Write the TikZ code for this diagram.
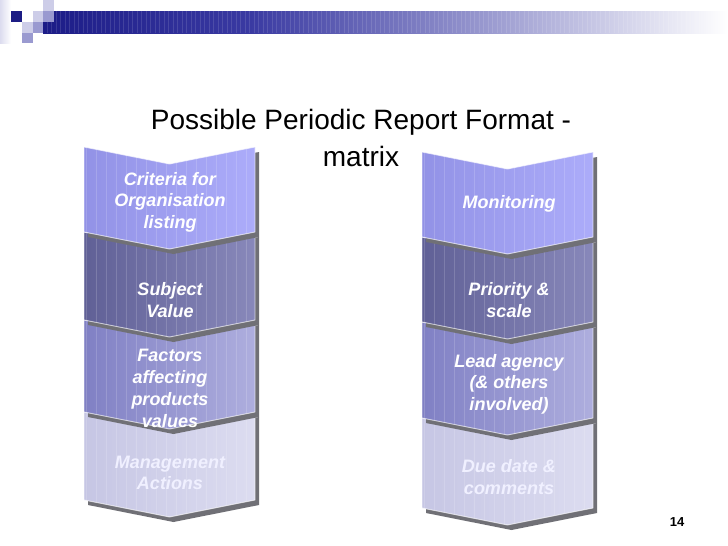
\documentclass[tikz,border=0pt]{standalone}
\usepackage{fontspec}
\setmainfont{Liberation Sans}
\definecolor{shadowgray}{RGB}{112,112,118}
\definecolor{navysq}{RGB}{28,28,132}
\definecolor{sqlight}{RGB}{205,205,232}
\definecolor{sqmed}{RGB}{154,154,208}
\definecolor{barA}{RGB}{28,28,135}
\definecolor{barB}{RGB}{58,58,162}
\definecolor{barC}{RGB}{138,138,200}
\definecolor{aL}{RGB}{146,146,230}
\definecolor{aR}{RGB}{172,172,250}
\definecolor{bL}{RGB}{96,96,150}
\definecolor{bR}{RGB}{136,136,186}
\definecolor{cL}{RGB}{128,128,196}
\definecolor{cR}{RGB}{174,174,222}
\definecolor{dL}{RGB}{198,198,228}
\definecolor{dR}{RGB}{220,220,240}
\tikzset{
  lbl/.style={text=white, font=\fontsize{18}{21.5}\selectfont\bfseries\itshape, align=center, inner sep=0pt},
  seglight/.style={draw=white, draw opacity=0.65, line width=0.9pt},
  stripe/.style={draw=white, draw opacity=0.16, line width=0.6pt},
  titlefont/.style={font=\fontsize{28}{34}\selectfont, inner sep=0pt, anchor=base},
}
% #1 xl, #2 xr, #3 top, #4 bottom, #5 left colour, #6 right colour
\newcommand\chevseg[6]{%
  \fill[shadowgray,shift={(4,5)}] (#1,#3) -- ({(#1+#2)/2},#3+17) -- (#2,#3) -- (#2,#4) -- ({(#1+#2)/2},#4+17) -- (#1,#4) -- cycle;
  \shade[left color=#5,right color=#6] (#1,#3) -- ({(#1+#2)/2},#3+17) -- (#2,#3) -- (#2,#4) -- ({(#1+#2)/2},#4+17) -- (#1,#4) -- cycle;
  \begin{scope}
    \clip (#1,#3) -- ({(#1+#2)/2},#3+17) -- (#2,#3) -- (#2,#4) -- ({(#1+#2)/2},#4+17) -- (#1,#4) -- cycle;
    \foreach \sx in {2,12,...,172} \draw[stripe] (#1+\sx,#3) -- (#1+\sx,#4+20);
  \end{scope}
  \draw[seglight] (#1,#3) -- ({(#1+#2)/2},#3+17) -- (#2,#3) -- (#2,#4) -- ({(#1+#2)/2},#4+17) -- (#1,#4) -- cycle;
}
\begin{document}
\begin{tikzpicture}[x=1pt,y=-1pt]
\useasboundingbox (0,0) rectangle (728,546);
\fill[white] (0,0) rectangle (728,546);
% header decoration
\shade[left color=sqlight!70,right color=white] (0,0) rectangle (11,43);
\shade[left color=barA,right color=barB] (43,11) rectangle (250.5,33);
\shade[left color=barB,right color=barC] (250,11) rectangle (450.5,33);
\shade[left color=barC,right color=white] (450,11) rectangle (728,33);
\foreach \bx in {47,51.5,...,700} \draw[white, draw opacity=0.12, line width=0.6pt] (\bx,11) -- (\bx,33);
\fill[navysq] (11,11) rectangle (22,22);
\fill[sqlight] (33,11) rectangle (43,22);
\fill[sqlight] (43,0) rectangle (54,11);
\fill[sqlight] (22,22) rectangle (33,33);
\fill[sqmed] (43,11) rectangle (54,22);
\fill[sqmed] (33,22) rectangle (43,33);
\fill[sqmed] (22,33) rectangle (33,43);
% left column (drawn bottom to top)
\chevseg{84}{255}{412}{500}{dL}{dR}
\chevseg{84}{255}{320}{412}{cL}{cR}
\chevseg{84}{255}{232}{320}{bL}{bR}
\chevseg{84}{255}{147}{232}{aL}{aR}
% right column
\chevseg{422}{593}{418}{508}{dL}{dR}
\chevseg{422}{593}{322}{418}{cL}{cR}
\chevseg{422}{593}{237}{322}{bL}{bR}
\chevseg{422}{593}{152}{237}{aL}{aR}
% title
\node[titlefont] (title) at (361,129) {Possible Periodic Report Format -};
\node[titlefont] (title2) at (361,166) {matrix};
% labels
\node[lbl] (l1) at (170,202) {Criteria for\\Organisation\\listing};
\node[lbl] (l2) at (170,300) {Subject\\Value};
\node[lbl, font=\fontsize{18}{22}\selectfont\bfseries\itshape] (l3) at (170,388) {Factors\\affecting\\products\\values};
\node[lbl, text=white!94!blue] (l4) at (170,473) {Management\\Actions};
\node[lbl] (r1) at (509,204) {Monitoring};
\node[lbl] (r2) at (509,300) {Priority \&\\scale};
\node[lbl] (r3) at (509,384) {Lead agency\\(\& others\\involved)};
\node[lbl, text=white!94!blue] (r4) at (509,477) {Due date \&\\comments};
% page number
\node[font=\fontsize{13}{15}\selectfont\bfseries, inner sep=0pt] (pg) at (677,522) {14};
\end{tikzpicture}
\end{document}
